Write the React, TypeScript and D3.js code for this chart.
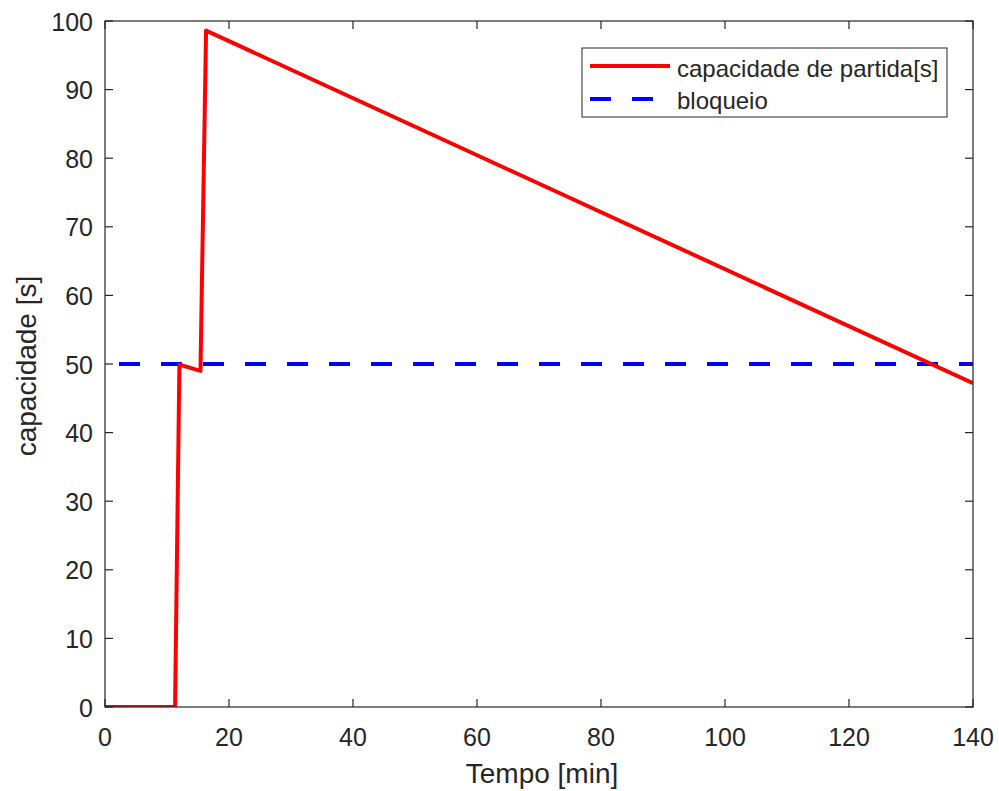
import React from "react";
import * as d3 from "d3";

const capTime = [0, 11.3, 12.0, 15.4, 16.3, 140];
const capValue = [0, 0, 49.9, 49.0, 98.6, 47.2];
const blockTime = [0, 140];
const blockValue = [50, 50];
const xTicks = [0, 20, 40, 60, 80, 100, 120, 140];
const yTicks = [0, 10, 20, 30, 40, 50, 60, 70, 80, 90, 100];
const seriesNames = ["capacidade de partida[s]", "bloqueio"];

export default function App() {
  const W = 999, H = 791;
  const L = 105, R = 973, T = 21, B = 707;
  const x = d3.scaleLinear().domain([0, 140]).range([L, R]);
  const y = d3.scaleLinear().domain([0, 100]).range([B, T]);
  const line = d3.line<[number, number]>().x(d => x(d[0])).y(d => y(d[1]));
  const capPts = capTime.map((t, i) => [t, capValue[i]] as [number, number]);
  const blkPts = blockTime.map((t, i) => [t, blockValue[i]] as [number, number]);
  const axisColor = "#262626";
  const font = "'Liberation Sans', Arial, Helvetica, sans-serif";
  const tl = 8;
  return (
    <svg width={W} height={H} style={{ position: "absolute", left: 0, top: 0 }} fontFamily={font}>
      <rect x={0} y={0} width={W} height={H} fill="#fff" />
      <defs>
        <clipPath id="clip">
          <rect x={L} y={T} width={R - L} height={B - T} />
        </clipPath>
      </defs>
      <g clipPath="url(#clip)">
        <path d={line(blkPts) || ""} fill="none" stroke="#0000ff" strokeWidth={4} strokeDasharray="21 21" strokeDashoffset={28} />
        <path d={line(capPts) || ""} fill="none" stroke="#ff0000" strokeWidth={4} strokeLinejoin="round" />
      </g>
      <rect x={L} y={T} width={R - L} height={B - T} fill="none" stroke={axisColor} strokeWidth={1.2} />
      {xTicks.map(t => (
        <g key={"x" + t}>
          <line x1={x(t)} x2={x(t)} y1={B} y2={B - tl} stroke={axisColor} strokeWidth={1.2} />
          <line x1={x(t)} x2={x(t)} y1={T} y2={T + tl} stroke={axisColor} strokeWidth={1.2} />
          <text x={x(t)} y={B + 39} textAnchor="middle" fontSize={25} fill={axisColor}>{t}</text>
        </g>
      ))}
      {yTicks.map(t => (
        <g key={"y" + t}>
          <line x1={L} x2={L + tl} y1={y(t)} y2={y(t)} stroke={axisColor} strokeWidth={1.2} />
          <line x1={R} x2={R - tl} y1={y(t)} y2={y(t)} stroke={axisColor} strokeWidth={1.2} />
          <text x={L - 12} y={y(t) + 9.5} textAnchor="end" fontSize={25} fill={axisColor}>{t}</text>
        </g>
      ))}
      <text x={542} y={783} textAnchor="middle" fontSize={28} fill={axisColor}>Tempo [min]</text>
      <text transform={`translate(36, ${366}) rotate(-90)`} textAnchor="middle" fontSize={28} fill={axisColor}>capacidade [s]</text>
      <g>
        <rect x={582} y={48} width={365} height={69} fill="#fff" stroke={axisColor} strokeWidth={1} />
        <line x1={590} x2={670} y1={66} y2={66} stroke="#ff0000" strokeWidth={4} />
        <line x1={590} x2={670} y1={99} y2={99} stroke="#0000ff" strokeWidth={4} strokeDasharray="21 21" />
        <text x={677} y={76.5} fontSize={24} fill={axisColor}>{seriesNames[0]}</text>
        <text x={677} y={109} fontSize={24} fill={axisColor}>{seriesNames[1]}</text>
      </g>
    </svg>
  );
}
